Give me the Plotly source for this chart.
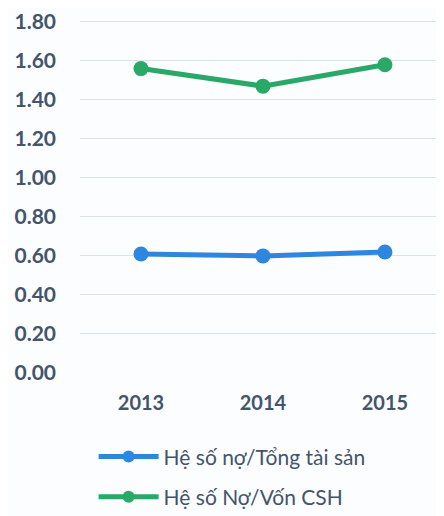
import plotly.graph_objects as go

years = ["2013", "2014", "2015"]
debt_to_assets = [0.61, 0.60, 0.62]
debt_to_equity = [1.56, 1.47, 1.58]
y_ticks = [0.0, 0.2, 0.4, 0.6, 0.8, 1.0, 1.2, 1.4, 1.6, 1.8]
series_names = ["Hệ số nợ/Tổng tài sản", "Hệ số Nợ/Vốn CSH"]

TEXT = "#44546a"
fig = go.Figure()
fig.add_trace(go.Scatter(x=years, y=debt_to_assets, name=series_names[0], mode="lines+markers",
                         line=dict(color="#2e86de", width=5), marker=dict(size=15, color="#2e86de"),
                         legendgroup="a"))
fig.add_trace(go.Scatter(x=years, y=debt_to_equity, name=series_names[1], mode="lines+markers",
                         line=dict(color="#2aa868", width=5), marker=dict(size=15, color="#2aa868"),
                         legendgroup="b"))

fig.update_layout(
    width=444, height=516,
    margin=dict(l=72, r=0, t=0, b=151),
    paper_bgcolor="#fbfdfe", plot_bgcolor="rgba(0,0,0,0)",
    font=dict(family="Lato", color=TEXT),
    showlegend=True,
    legend=dict(orientation="v", x=0.0366, xanchor="left", y=-0.1755, yanchor="top",
                font=dict(size=21, color=TEXT, family="Lato"), itemwidth=60,
                itemsizing="constant",
                tracegroupgap=10, bgcolor="rgba(0,0,0,0)"),
    xaxis=dict(type="category", range=[-0.5, 2.55], showgrid=False, zeroline=False,
               showline=False, ticks="", tickfont=dict(size=20, family="Lato", color=TEXT, weight="bold"),
               ticklabelstandoff=16),
    yaxis=dict(range=[0, 1.85], tickvals=y_ticks, tickformat=".2f", showgrid=True,
               gridcolor="#d9e3ec", gridwidth=1, zeroline=False, showline=False, ticks="",
               tickfont=dict(size=21, family="Lato", color=TEXT, weight="bold"),
               ticklabelstandoff=23, ticklabeloverflow="allow"),
)
fig.write_html("out.html")
